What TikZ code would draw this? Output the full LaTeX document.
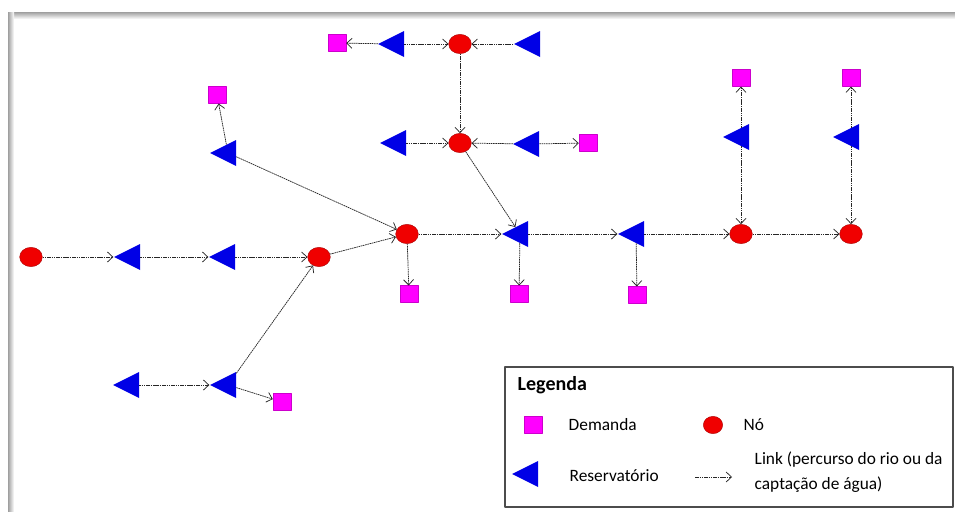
\documentclass[tikz,border=0pt]{standalone}
\usepackage{fontspec}
\setmainfont{Carlito}
\usetikzlibrary{shapes.geometric,arrows.meta}
\definecolor{azul}{RGB}{0,0,230}
\definecolor{rosa}{RGB}{255,0,255}
\definecolor{verm}{RGB}{240,0,0}

\begin{document}
\begin{tikzpicture}[x=0.75pt,y=-0.75pt,>={Straight Barb[length=4pt,width=7.5pt]},
	line join=round, font=\fontsize{13}{18.75}\selectfont,
	nodo/.style={ellipse,fill=verm,draw=verm!70!black,line width=0.3pt,minimum width=17pt,minimum height=14.5pt,inner sep=0pt},
	reserv/.style={isosceles triangle,isosceles triangle stretches,shape border rotate=180,fill=azul,minimum width=19.5pt,minimum height=19.5pt,inner sep=0pt},
	dem/.style={rectangle,fill=rosa,draw=rosa!80!black,line width=0.3pt,minimum width=13.5pt,minimum height=12.5pt,inner sep=0pt},
	link/.style={->,black!85,line width=0.55pt,dash pattern=on 1.2pt off 0.5pt}]
	\useasboundingbox (0,0) rectangle (955,511);
	% moldura
	\shade[top color=gray!75,bottom color=white] (8,12) rectangle (955,19);
	\shade[left color=gray!75,right color=white] (8,12) rectangle (14,511);
	% nos
	\node[nodo] (n1) at (31,257) {};
	\node[nodo] (n2) at (319,257) {};
	\node[nodo] (n3) at (407,234) {};
	\node[nodo] (n4) at (460,44) {};
	\node[nodo] (n5) at (460,143) {};
	\node[nodo] (n6) at (741,234) {};
	\node[nodo] (n7) at (851,234) {};
	% reservatorios
	\node[reserv] (r1) at (132,257) {};
	\node[reserv] (r2) at (227,257) {};
	\node[reserv] (r3) at (228,153) {};
	\node[reserv] (r4) at (396,44) {};
	\node[reserv] (r5) at (532,44) {};
	\node[reserv] (r6) at (398,143) {};
	\node[reserv] (r7) at (531,144) {};
	\node[reserv] (r8) at (520,234) {};
	\node[reserv] (r9) at (636,234) {};
	\node[reserv] (r10) at (741,137) {};
	\node[reserv] (r11) at (851,137) {};
	\node[reserv] (r12) at (131,385) {};
	\node[reserv] (r13) at (228,385) {};
	% demandas
	\node[dem] (d1) at (337,43) {};
	\node[dem] (d2) at (588,143) {};
	\node[dem] (d3) at (217,95) {};
	\node[dem] (d4) at (409,294) {};
	\node[dem] (d5) at (519,294) {};
	\node[dem] (d6) at (637,295) {};
	\node[dem] (d7) at (741,78) {};
	\node[dem] (d8) at (851,78) {};
	\node[dem] (d9) at (282,402) {};
	% links
	\draw[link] (n1)--(r1);
	\draw[link] (r1)--(r2);
	\draw[link] (r2)--(n2);
	\draw[link] (r12)--(r13);
	\draw[link] (r13)--(n2);
	\draw[link] (r13)--(d9);
	\draw[link] (n2)--(n3);
	\draw[link] (r3)--(n3);
	\draw[link] (r3)--(d3);
	\draw[link] (r4)--(d1);
	\draw[link] (r4)--(n4);
	\draw[link] (r5)--(n4);
	\draw[link] (n4)--(n5);
	\draw[link] (r6)--(n5);
	\draw[link] (r7)--(n5);
	\draw[link] (r7)--(d2);
	\draw[link] (n5)--(r8);
	\draw[link] (n3)--(r8);
	\draw[link] (n3)--(d4);
	\draw[link] (r8)--(d5);
	\draw[link] (r8)--(r9);
	\draw[link] (r9)--(d6);
	\draw[link] (r9)--(n6);
	\draw[link] (n6)--(n7);
	\draw[link] (r10)--(n6);
	\draw[link] (r10)--(d7);
	\draw[link] (r11)--(n7);
	\draw[link] (r11)--(d8);
	% legenda
	\draw[black!70,line width=0.8pt] (505,367) rectangle (953,507);
	\node[anchor=west,font=\fontsize{15}{18.75}\selectfont\bfseries] (leg) at (513,385) {Legenda};
	\node[dem] (ld) at (533,425) {};
	\node[anchor=west] (tld) at (564,425) {Demanda};
	\node[nodo,minimum width=14.5pt,minimum height=13pt] (ln) at (713,425) {};
	\node[anchor=west] (tln) at (739,425) {Nó};
	\node[reserv] (lr) at (530,474) {};
	\node[anchor=west] (tlr) at (565,476) {Reservatório};
	\coordinate (la) at (695,477);
	\coordinate (lb) at (732,477);
	\draw[link] (la)--(lb);
	\node[anchor=west,align=left] (tll) at (750,472) {Link (percurso do rio ou da\\captação de água)};
\end{tikzpicture}
\end{document}
